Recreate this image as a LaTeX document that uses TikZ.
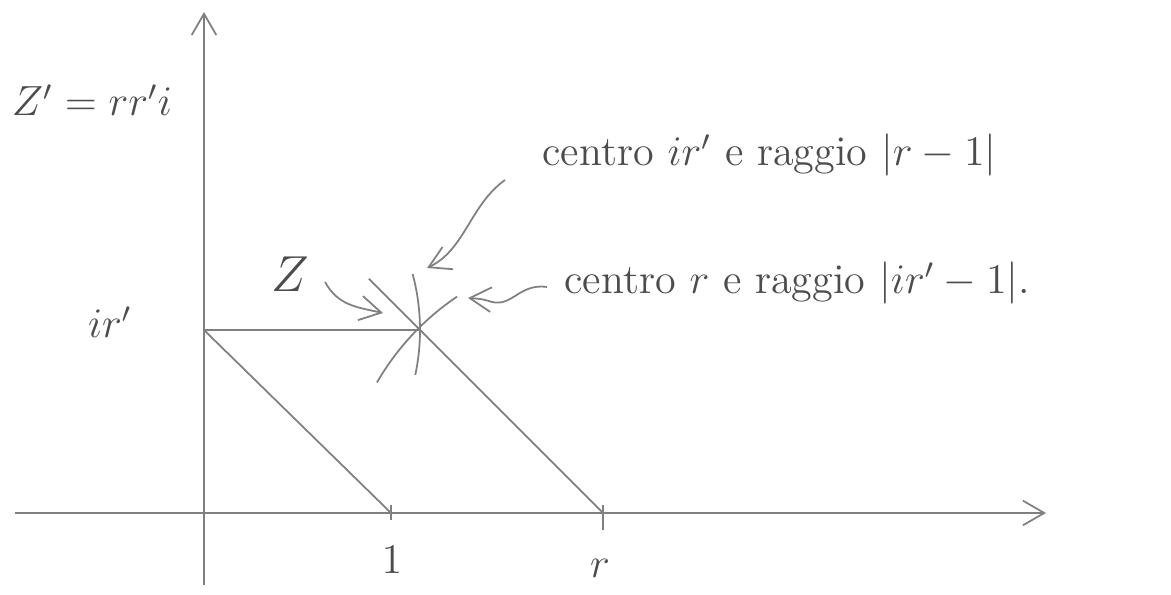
\documentclass[tikz,border=0pt]{standalone}
\usepackage{amsmath, amssymb}
\usepackage{xcolor}
\usepackage{tikz}
\usetikzlibrary{calc, arrows.meta}
\colorlet{pencil}{black!50}
\colorlet{lead}{black!70}

\begin{document}
\begin{tikzpicture}[x=0.1mm, y=0.1mm, line width=0.5pt, color=pencil,
    >={Straight Barb[angle=60:7pt]},
    lbl/.style={text=lead, font=\large}]
  \useasboundingbox (0,0) rectangle (1171,595);
  % axes
  \coordinate (xl) at (15,82);
  \coordinate (xr) at (1046,82);
  \coordinate (yb) at (204,10);
  \coordinate (yt) at (204,583);
  \draw[->] (xl) -- (xr);
  \draw[->] (yb) -- (yt);
  % points on the axes
  \coordinate (one) at (391,82);
  \coordinate (r) at (603,82);
  \coordinate (ir) at (204,265);
  \coordinate (Z) at (420,265);
  \coordinate (Zp) at ($(r)!1.28!(Z)$);
  \draw (one) ++(0,8) -- ++(0,-15);
  \draw (r) ++(0,8) -- ++(0,-25);
  % parallel segments and the horizontal one
  \draw (ir) -- (one);
  \draw (Zp) -- (r);
  \draw (ir) -- (Z);
  % the two arcs crossing at Z
  \draw ([shift={(-12:216)}]ir) arc[start angle=-12, end angle=15, radius=216];
  \draw ([shift={(124:261)}]r) arc[start angle=124, end angle=150, radius=261];
  % labels
  \node[lbl] (lone) at (392,35) {$1$};
  \node[lbl] (lr) at (600,27) {$r$};
  \node[lbl] (lir) at (110,273) {$ir'$};
  \node[lbl] (lZp) at (92,495) {$Z'=rr'i$};
  \node[lbl, font=\Large] (lZ) at (290,321) {$Z$};
  \node[lbl, anchor=west] (txtA) at (530,440) {centro $ir'$ e raggio $|r-1|$};
  \node[lbl, anchor=west] (txtB) at (552,312) {centro $r$ e raggio $|ir'-1|$.};
  % hand-drawn pointers
  \coordinate (pA) at (505,415);
  \coordinate (tA) at (427,327);
  \draw[->] (pA) .. controls (470,390) and (465,345) .. (tA);
  \coordinate (pB) at (547,308);
  \coordinate (tB) at (468,297);
  \draw[->] (pB) .. controls (520,312) and (512,288) .. (492,293)
        .. controls (482,296) .. (tB);
  \coordinate (pZ) at (325,313);
  \coordinate (tZ) at (383,282);
  \draw[->] (pZ) .. controls (338,290) and (355,288) .. (tZ);
\end{tikzpicture}
\end{document}
